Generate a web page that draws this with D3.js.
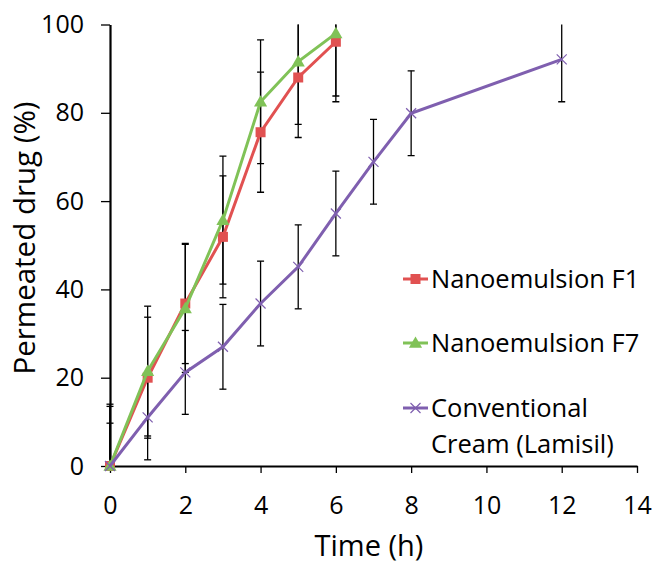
<!DOCTYPE html>
<html>
<head>
  <meta charset="UTF-8">
  <style>
    body { margin: 0; background: #fff; }
    text { font-family: "Open Sans", sans-serif; fill: #000; }
  </style>
</head>
<body>
<svg></svg>
<script src="https://d3js.org/d3.v7.min.js"></script>
<script>

let width = 654, height = 564;

// time points (h)
const timeF = [0, 1, 2, 3, 4, 5, 6];
const timeC = [0, 1, 2, 3, 4, 5, 6, 7, 8, 12];

// permeated drug (%) and SD
const f1 = [0, 20.0, 36.8, 51.9, 75.6, 88.0, 96.1];
const f1Err = [13.5, 13.7, 13.6, 13.8, 13.6, 13.6, 13.6];
const f7 = [0, 21.5, 35.7, 55.7, 82.5, 91.6, 98.0];
const f7Err = [14.0, 14.7, 14.5, 14.5, 14.0, 14.2, 14.2];
const cream = [0, 11.0, 21.2, 27.0, 36.8, 45.1, 57.2, 68.9, 79.9, 92.1];
const creamErr = [9.7, 9.6, 9.5, 9.6, 9.6, 9.5, 9.6, 9.6, 9.6, 9.6];

const xTicks = [0, 2, 4, 6, 8, 10, 12, 14];
const yTicks = [0, 20, 40, 60, 80, 100];

const series = [
  { name: "Nanoemulsion F1", t: timeF, v: f1, e: f1Err, color: "#E15151", marker: "square" },
  { name: "Nanoemulsion F7", t: timeF, v: f7, e: f7Err, color: "#80C257", marker: "triangle" },
  { name: ["Conventional", "Cream (Lamisil)"], t: timeC, v: cream, e: creamErr, color: "#7F5FAF", marker: "cross" }
];

let svg = d3.select("svg")
    .attr("width", width)
    .attr("height", height);

let x = d3.scaleLinear().domain([0, 14]).range([110, 637]);
let y = d3.scaleLinear().domain([0, 100]).range([466, 24.5]);

svg.append("defs").append("clipPath")
    .attr("id", "plotclip")
    .append("rect")
    .attr("x", 100).attr("y", y(100))
    .attr("width", 560).attr("height", y(0) - y(100) + 10);

// error bars
let errG = svg.append("g").attr("clip-path", "url(#plotclip)");
series.forEach(s => {
  s.t.forEach((t, i) => {
    let cx = x(t);
    let lo = y(Math.max(0, s.v[i] - s.e[i])), hi = y(s.v[i] + s.e[i]);
    errG.append("line").attr("x1", cx).attr("x2", cx).attr("y1", lo).attr("y2", hi)
      .attr("stroke", "#000").attr("stroke-width", 1.3);
    [lo, hi].forEach(yy => {
      errG.append("line").attr("x1", cx - 3.5).attr("x2", cx + 3.5).attr("y1", yy).attr("y2", yy)
        .attr("stroke", "#000").attr("stroke-width", 1.3);
    });
  });
});

// axes
let xAxis = svg.append("g")
    .attr("transform", "translate(0," + y(0) + ")")
    .call(d3.axisBottom(x).tickValues(xTicks).tickSize(7).tickPadding(23).tickSizeOuter(0));
let yAxis = svg.append("g")
    .attr("transform", "translate(" + x(0) + ",0)")
    .call(d3.axisLeft(y).tickValues(yTicks).tickSize(9).tickPadding(17).tickSizeOuter(0));
[xAxis, yAxis].forEach(a => {
  a.select(".domain").attr("stroke", "#000").attr("stroke-width", 2.2);
  a.selectAll(".tick line").attr("stroke", "#000").attr("stroke-width", 1.3);
  a.selectAll(".tick text").style("font-family", "Open Sans").style("font-size", "25px").attr("fill", "#000");
});

// lines and markers
let line = d3.line().x(d => x(d[0])).y(d => y(d[1]));
function drawMarker(g, m, cx, cy, color) {
  if (m === "square") {
    g.append("rect").attr("x", cx - 5).attr("y", cy - 5).attr("width", 10).attr("height", 10).attr("fill", color);
  } else if (m === "triangle") {
    g.append("path").attr("d", d3.symbol(d3.symbolTriangle, 75)()).attr("transform", "translate(" + cx + "," + (cy + 1) + ")").attr("fill", color);
  } else {
    g.append("path").attr("d", `M${cx - 5},${cy - 5}L${cx + 5},${cy + 5}M${cx - 5},${cy + 5}L${cx + 5},${cy - 5}`)
      .attr("stroke", color).attr("stroke-width", 1.2);
  }
}
let lineG = svg.append("g");
series.forEach(s => {
  let pts = s.t.map((t, i) => [t, s.v[i]]);
  lineG.append("path").attr("d", line(pts)).attr("fill", "none").attr("stroke", s.color).attr("stroke-width", 3);
  pts.forEach(p => drawMarker(lineG, s.marker, x(p[0]), y(p[1]), s.color));
});

// legend
let legendY = [279, 343, 408];
series.forEach((s, i) => {
  let g = svg.append("g");
  g.append("line").attr("x1", 403).attr("x2", 428).attr("y1", legendY[i]).attr("y2", legendY[i])
    .attr("stroke", s.color).attr("stroke-width", 3);
  drawMarker(g, s.marker, 415.5, legendY[i], s.color);
  let names = Array.isArray(s.name) ? s.name : [s.name];
  names.forEach((n, j) => {
    g.append("text").attr("x", 431).attr("y", legendY[i] + j * 36 + 8.5)
      .style("font-size", "25.5px").text(n);
  });
});

// axis titles
svg.append("text")
    .attr("x", 369).attr("y", 556)
    .attr("text-anchor", "middle")
    .style("font-size", "29px")
    .text("Time (h)");
svg.append("text")
    .attr("transform", "translate(35,238) rotate(-90)")
    .attr("text-anchor", "middle")
    .style("font-size", "29.5px")
    .text("Permeated drug (%)");

</script>
</body>
</html>
